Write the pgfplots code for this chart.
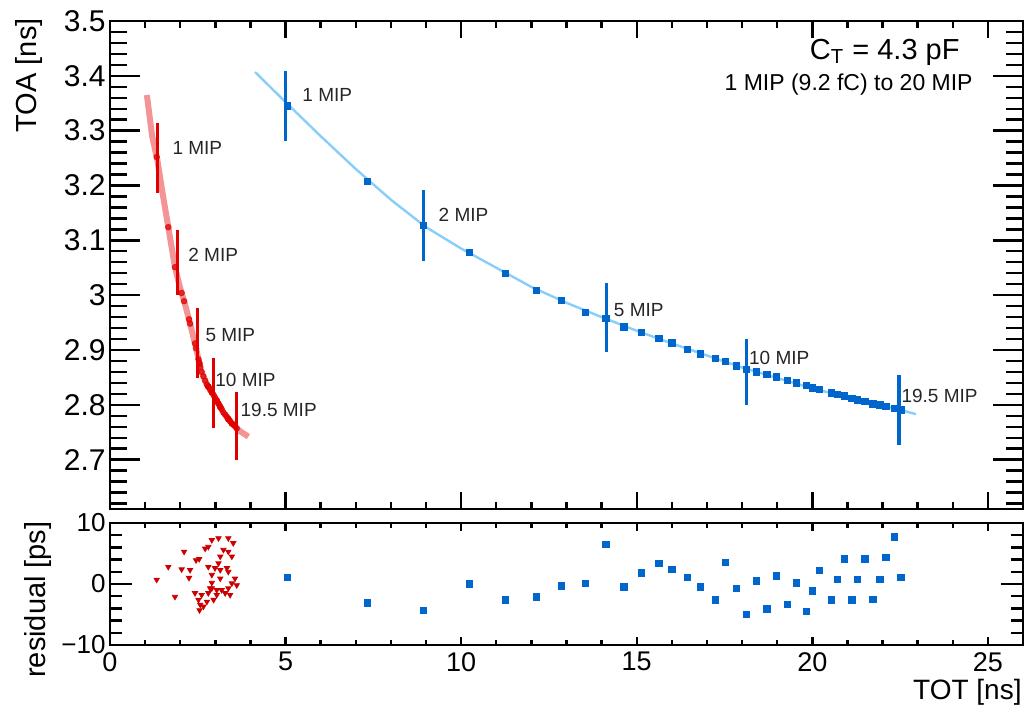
\documentclass[border=0pt]{standalone}
\usepackage{fontspec}
\setmainfont{Liberation Sans}
\usepackage{pgfplots}
\usepackage{pgfplotstable}
\pgfplotsset{compat=1.18}
\definecolor{bluepts}{HTML}{0066CC}
\definecolor{bluefit}{HTML}{87CEFA}
\definecolor{redpts}{HTML}{E00000}
\definecolor{redfit}{HTML}{F07070}
\definecolor{redres}{HTML}{CC0000}

% blue: TOT [ns], TOA [ns], residual [ps]
\pgfplotstableread{
x toa res
5.05 3.345 1.1
7.33 3.208 -3.1
8.93 3.127 -4.3
10.24 3.078 0.0
11.26 3.040 -2.6
12.14 3.009 -2.1
12.85 2.990 -0.3
13.54 2.969 0.1
14.12 2.958 6.5
14.64 2.942 -0.5
15.14 2.932 1.8
15.63 2.921 3.4
16.00 2.913 2.4
16.45 2.901 1.1
16.81 2.893 -0.5
17.24 2.885 -2.6
17.52 2.879 3.5
17.84 2.871 -0.7
18.13 2.865 -5.0
18.41 2.860 0.5
18.71 2.856 -4.1
18.97 2.851 1.3
19.29 2.845 -3.3
19.54 2.840 0.2
19.84 2.835 -4.5
20.01 2.831 -1.1
20.21 2.828 2.2
20.54 2.822 -2.6
20.71 2.819 0.8
20.91 2.816 4.1
21.13 2.812 -2.6
21.28 2.809 0.8
21.50 2.806 4.1
21.72 2.802 -2.5
21.92 2.800 0.8
22.10 2.797 4.4
22.33 2.794 7.7
22.52 2.791 1.1
}\bluedata

\pgfplotstableread{
x toa res
1.33 3.252 0.7
1.66 3.124 2.8
1.85 3.051 -2.1
2.04 3.004 2.4
2.11 2.989 5.3
2.25 2.956 1.0
2.28 2.948 2.3
2.42 2.912 -1.5
2.45 2.903 3.9
2.52 2.883 -2.6
2.54 2.877 4.1
2.55 2.875 -4.3
2.57 2.869 -3.4
2.61 2.860 -1.8
2.66 2.852 -3.7
2.71 2.844 5.8
2.76 2.837 -2.9
2.80 2.833 6.1
2.80 2.833 2.8
2.80 2.833 -1.5
2.85 2.828 -0.7
2.90 2.823 7.2
2.90 2.823 1.5
2.90 2.823 -0.7
2.90 2.823 0.2
2.95 2.818 -2.6
2.99 2.813 2.6
3.04 2.808 -1.8
3.04 2.808 -1.0
3.09 2.802 7.5
3.09 2.802 3.4
3.14 2.796 4.5
3.14 2.796 2.3
3.14 2.796 0.9
3.18 2.792 -1.0
3.23 2.786 5.6
3.28 2.782 -1.5
3.33 2.778 2.6
3.37 2.774 7.5
3.37 2.774 5.3
3.37 2.774 2.0
3.37 2.774 -0.7
3.42 2.770 -1.8
3.47 2.766 4.5
3.47 2.766 0.1
3.51 2.764 6.7
3.56 2.761 0.9
3.61 2.757 -0.2
}\reddata

% fitted curves
\pgfplotstableread{
x y
4.13 3.407
5 3.352
6 3.290
7 3.230
8 3.174
9 3.124
10 3.085
11 3.050
12 3.015
13 2.986
14 2.960
15 2.935
16 2.912
17 2.890
18 2.868
19 2.849
20 2.830
21 2.814
22 2.799
22.95 2.783
}\bluefit

\pgfplotstableread{
x y
1.05 3.365
1.2 3.29
1.35 3.246
1.5 3.185
1.66 3.124
1.85 3.051
2.0 3.013
2.16 2.978
2.3 2.943
2.42 2.912
2.59 2.863
2.75 2.838
2.92 2.821
3.08 2.803
3.23 2.786
3.47 2.766
3.7 2.752
3.94 2.742
}\redfit

% error bars at the MIP points
\pgfplotstableread{
x y e
5.00 3.345 0.063
8.93 3.127 0.064
14.14 2.959 0.063
18.13 2.860 0.060
22.47 2.790 0.064
}\bluebars

\pgfplotstableread{
x y e
1.34 3.250 0.064
1.91 3.059 0.059
2.48 2.912 0.064
2.94 2.821 0.064
3.59 2.761 0.062
}\redbars

\pgfplotsset{
  rootpad/.style={
    scale only axis, width=456.5pt, xmin=0, xmax=26,
    anchor=south west,
    axis line style={line width=1.2pt},
    tick style={line width=1.2pt, black},
    tick align=inside, tick pos=both,
  },
}

\begin{document}
\begin{tikzpicture}
\path[use as bounding box] (0,0) rectangle (512.5pt,353pt);

% upper pad: x ticks
\begin{axis}[rootpad, at={(55pt,98.5pt)}, height=244pt, ymin=2.61, ymax=3.5,
  ytick=\empty, xtick={0,5,10,15,20,25}, minor x tick num=4, xticklabels={},
  major tick length=8.5pt, minor tick length=3.5pt]
\end{axis}

% upper pad: y ticks and data
\begin{axis}[rootpad, at={(55pt,98.5pt)}, height=244pt, ymin=2.61, ymax=3.5,
  xtick=\empty,
  ytick={2.7,2.8,2.9,3,3.1,3.2,3.3,3.4,3.5},
  yticklabels={2.7,2.8,2.9,3,3.1,3.2,3.3,3.4,3.5},
  minor ytick={2.62,2.64,2.66,2.68,2.72,2.74,2.76,2.78,2.82,2.84,2.86,2.88,
    2.92,2.94,2.96,2.98,3.02,3.04,3.06,3.08,3.12,3.14,3.16,3.18,
    3.22,3.24,3.26,3.28,3.32,3.34,3.36,3.38,3.42,3.44,3.46,3.48},
  major tick length=15pt, minor tick length=8.5pt,
  yticklabel style={font=\fontsize{15}{15}\selectfont, inner sep=0pt, xshift=-2pt}]
\addplot[color=redfit, line width=3pt, opacity=0.75] table[x=x, y=y]{\redfit};
\addplot[only marks, mark=*, mark size=1.4pt, color=redpts, opacity=0.75]
  table[x=x, y=toa]{\reddata};
\addplot[draw=none, mark=none, error bars/.cd, y dir=both, y explicit,
  error mark=none, error bar style={draw=redpts, line width=1.5pt}]
  table[x=x, y=y, y error=e]{\redbars};
\addplot[only marks, mark=square*, mark size=1.6pt, color=bluepts]
  table[x=x, y=toa]{\bluedata};
\addplot[color=bluefit, line width=1.2pt] table[x=x, y=y]{\bluefit};
\addplot[draw=none, mark=none, error bars/.cd, y dir=both, y explicit,
  error mark=none, error bar style={draw=bluepts, line width=1.8pt}]
  table[x=x, y=y, y error=e]{\bluebars};

\begin{scope}[every node/.style={anchor=west, inner sep=0pt, text=black!85,
    font=\fontsize{9.5}{9.5}\selectfont}]
\node at (axis cs:5.47,3.365) {1 MIP};
\node at (axis cs:9.35,3.146) {2 MIP};
\node at (axis cs:14.34,2.972) {5 MIP};
\node at (axis cs:18.19,2.885) {10 MIP};
\node at (axis cs:22.53,2.817) {19.5 MIP};
\node at (axis cs:1.77,3.268) {1 MIP};
\node at (axis cs:2.22,3.073) {2 MIP};
\node at (axis cs:2.71,2.927) {5 MIP};
\node at (axis cs:2.99,2.845) {10 MIP};
\node at (axis cs:3.71,2.790) {19.5 MIP};
\end{scope}
\end{axis}

% lower pad: x ticks
\begin{axis}[rootpad, at={(55pt,30.5pt)}, height=61pt, ymin=-10, ymax=10,
  ytick=\empty, xtick={0,5,10,15,20,25}, minor x tick num=4,
  xticklabels={0,5,10,15,20,25},
  major tick length=4pt, minor tick length=2.5pt,
  xticklabel style={font=\fontsize{13.5}{13.5}\selectfont, inner sep=0pt, yshift=-3.5pt}]
\end{axis}

% lower pad: y ticks and residuals
\begin{axis}[rootpad, at={(55pt,30.5pt)}, height=61pt, ymin=-10, ymax=10,
  xtick=\empty, ytick={-10,0,10}, yticklabels={−10,0,10}, minor y tick num=4,
  major tick length=11pt, minor tick length=6pt,
  yticklabel style={font=\fontsize{13}{13}\selectfont, inner sep=0pt, xshift=-2pt}]
\addplot[only marks, mark=triangle*, mark size=1.5pt, color=redres,
  mark options={rotate=180}] table[x=x, y=res]{\reddata};
\addplot[only marks, mark=square*, mark size=1.6pt, color=bluepts]
  table[x=x, y=res]{\bluedata};
\end{axis}

% axis titles and annotations
\node[rotate=90, anchor=east, inner sep=0pt, font=\fontsize{14.5}{14.5}\selectfont]
  at (14.5pt,344pt) {TOA [ns]};
\node[rotate=90, anchor=east, inner sep=0pt, font=\fontsize{14.5}{14.5}\selectfont]
  at (19pt,92.5pt) {residual [ps]};
\node[anchor=base east, inner sep=0pt, font=\fontsize{14}{14}\selectfont]
  at (511pt,3pt) {TOT [ns]};
\node[anchor=east, inner sep=0pt, font=\fontsize{14.5}{14.5}\selectfont]
  at (480pt,327pt) {C\textsubscript{T} = 4.3 pF};
\node[anchor=east, inner sep=0pt, font=\fontsize{11.5}{11.5}\selectfont]
  at (486.5pt,310.5pt) {1 MIP (9.2 fC) to 20 MIP};
\end{tikzpicture}
\end{document}
